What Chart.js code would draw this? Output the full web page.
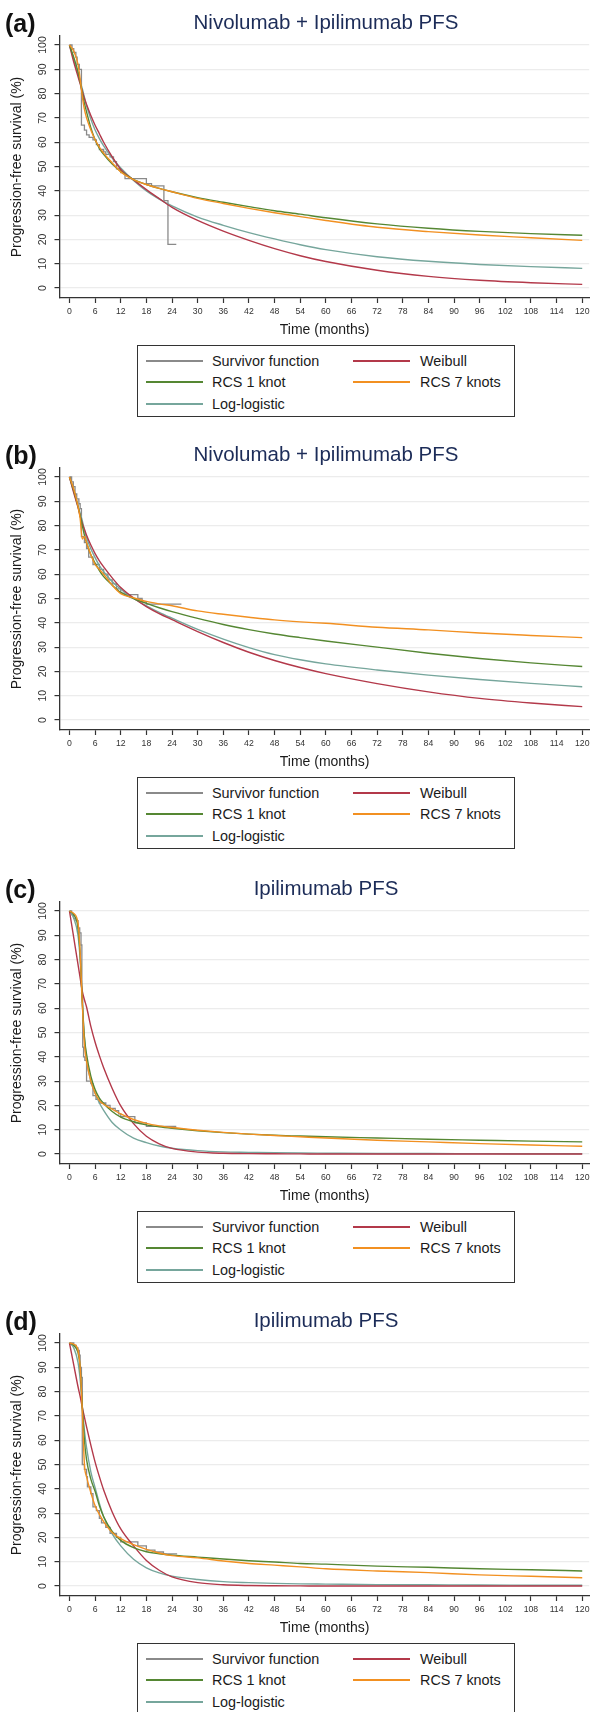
<!DOCTYPE html>
<html>
<head>
<meta charset="utf-8">
<title>PFS model fits</title>
<script src="https://cdn.jsdelivr.net/npm/chart.js@4.4.1/dist/chart.umd.min.js"></script>
<style>
  html, body { margin: 0; padding: 0; background: #fff; }
  body { width: 593px; height: 1712px; overflow: hidden; position: relative;
         font-family: 'Liberation Sans', Arial, Helvetica, sans-serif; }
  .panel { position: absolute; left: 0; width: 593px; height: 432px; }
  .panel canvas { position: absolute; left: 0; top: 0; }
  .tag { position: absolute; left: 5px; top: 11px; font: bold 25px/1 'Liberation Sans', Arial, sans-serif; color: #111; }
  .title { position: absolute; left: 60px; width: 532px; top: 12px; text-align: center;
           font: 20.5px/1 'Liberation Sans', Arial, sans-serif; color: #1c2c58; }
  .legend { position: absolute; left: 137px; top: 345px; width: 378px; height: 72px;
            box-sizing: border-box; border: 1.3px solid #333; }
  .legend .swatch { position: absolute; width: 57px; height: 1.8px; }
  .legend .label { position: absolute; font: 14.4px/1 'Liberation Sans', Arial, sans-serif; color: #1a1a1a; white-space: nowrap; }
</style>
</head>
<body>
<script>
// 공통 축 / 시간 격자
const xTicks = [0, 6, 12, 18, 24, 30, 36, 42, 48, 54, 60, 66, 72, 78, 84, 90, 96, 102, 108, 114, 120];
const yTicks = [0, 10, 20, 30, 40, 50, 60, 70, 80, 90, 100];
const fitT = [0, 1, 2, 2.5, 3, 3.5, 4, 5, 6, 7, 8, 10, 12, 15, 18, 21, 24, 30, 36, 42, 48, 54, 60, 72, 84, 96, 108, 120];

const seriesNames = ['Survivor function', 'Weibull', 'RCS 1 knot', 'RCS 7 knots', 'Log-logistic'];
const seriesColors = ['#8a8a8a', '#b3394a', '#558733', '#f29021', '#76a69c'];
const panelTags = ['(a)', '(b)', '(c)', '(d)'];
const panelTitles = ['Nivolumab + Ipilimumab PFS', 'Nivolumab + Ipilimumab PFS', 'Ipilimumab PFS', 'Ipilimumab PFS'];
const xTitle = 'Time (months)';
const yTitle = 'Progression-free survival (%)';

// (a)
const aKmT = [0, 0.6, 1.0, 1.5, 1.8, 2.3, 2.8, 3.5, 4.0, 4.6, 5.5, 6.3, 7, 8, 8.5, 9.5, 10.3, 11, 12, 13, 18, 19.2, 22.1, 23.05, 25];
const aKmS = [100, 98.5, 97, 95, 92, 90, 67, 65, 63, 62, 61, 59, 57, 56, 55, 54, 52, 49, 47.5, 45, 43, 42, 36, 18, 18];
const aWeibull = [100, 93, 87, 84, 81, 78, 75.5, 71, 67, 63.5, 60, 54, 48.8, 44.5, 40.5, 36.8, 33.2, 27.8, 23.4, 19.6, 16.2, 13.3, 10.9, 7.3, 4.8, 3.2, 2.2, 1.5];
const aRcs1 = [100, 95, 89, 85, 80, 76, 72.5, 66, 61, 57.5, 55, 51, 48, 44.6, 42.6, 41, 39.6, 37.2, 35.3, 33.5, 31.8, 30.4, 28.9, 26.4, 24.6, 23.3, 22.4, 21.7];
const aRcs7 = [100, 97.5, 92, 86, 79, 73.5, 70, 65, 61, 58, 55.5, 51.5, 47.8, 44.6, 42.6, 41, 39.6, 36.9, 34.8, 32.8, 31.0, 29.4, 27.8, 25.0, 23.2, 21.8, 20.7, 19.6];
const aLogLogistic = [100, 94, 88, 85, 82, 78.5, 75, 69.5, 65, 61.5, 58.5, 53.5, 49.4, 44.3, 40.0, 36.6, 33.8, 29.2, 25.8, 22.8, 20.2, 17.8, 15.8, 12.9, 11.0, 9.7, 8.8, 8.1];

// (b)
const bKmT = [0, 0.5, 0.9, 1.3, 1.7, 2.2, 2.5, 2.8, 3.5, 4, 4.5, 5.5, 7, 8, 9, 10, 11, 12, 13, 16, 17, 18, 26.2];
const bKmS = [100, 98, 96, 93, 91, 89, 87, 75.5, 73, 70.5, 67, 64, 62, 60, 57.7, 56, 54, 52.2, 51.6, 50, 48.5, 47.7, 47.7];
const bWeibull = [100, 93.5, 87.5, 84, 81, 78.5, 76, 72, 68.5, 65.5, 63, 58.5, 54.5, 50.2, 46.7, 43.8, 41.3, 36.4, 31.9, 27.9, 24.5, 21.6, 19.1, 15.0, 11.6, 8.9, 7.0, 5.5];
const bRcs1 = [100, 94.5, 88, 84, 80, 76, 73, 68, 64.6, 61.5, 59, 55.5, 52.5, 50, 48, 46.2, 44.6, 41.8, 39.3, 37.2, 35.4, 33.9, 32.5, 30.0, 27.5, 25.3, 23.5, 22.0];
const bRcs7 = [100, 95, 88, 83, 74.5, 75.5, 73, 68, 64, 62, 60, 55.5, 52, 50.3, 48.8, 47.8, 47.0, 44.9, 43.5, 42.3, 41.2, 40.4, 39.8, 38.2, 37.1, 35.8, 34.8, 33.9];
const bLogLogistic = [100, 94, 88, 85, 82, 78, 75, 70.5, 66.8, 63.5, 61, 57, 53.8, 50, 47, 44.3, 41.9, 37.3, 33.3, 29.8, 26.9, 24.8, 23.1, 20.6, 18.5, 16.7, 15.1, 13.7];

// (c)
const cKmT = [0, 0.5, 1, 1.5, 2, 2.4, 2.7, 2.9, 3.1, 3.3, 3.6, 4, 5, 5.5, 6.2, 7, 8.5, 9.5, 10.7, 11.5, 12, 15.3, 18, 25];
const cKmS = [100, 98.5, 97, 96, 93, 91, 86, 65, 44, 40, 38.5, 30, 29, 24, 22.5, 21, 20, 18.8, 17.8, 16.5, 15.4, 12.8, 11.4, 11.4];
const cWeibull = [100, 89, 78, 72.5, 67, 63.5, 60.5, 52.5, 46, 40.5, 35.5, 27, 19.8, 12.5, 7.3, 4.2, 2.3, 0.8, 0.3, 0.15, 0.1, 0.05, 0, 0, 0, 0, 0, 0];
const cRcs1 = [100, 98.5, 93, 82, 63, 48, 41, 32, 26.5, 23, 20.8, 17.5, 15.2, 13.3, 12.0, 11.2, 10.6, 9.6, 8.8, 8.2, 7.7, 7.4, 7.1, 6.6, 6.1, 5.7, 5.3, 5.0];
const cRcs7 = [100, 99, 95, 83, 62, 45, 38, 30, 25, 22, 20.5, 18.5, 16.5, 14.2, 12.6, 11.6, 10.9, 9.8, 8.9, 8.2, 7.6, 7.1, 6.6, 5.7, 5.0, 4.3, 3.7, 3.2];
const cLogLogistic = [100, 97, 90, 80, 62, 48, 39, 30, 25, 21, 18, 13, 9.9, 6.5, 4.7, 3.3, 2.4, 1.4, 0.9, 0.7, 0.5, 0.4, 0.35, 0.25, 0.2, 0.15, 0.12, 0.1];

// (d)
const dKmT = [0, 1, 1.6, 2, 2.3, 2.5, 2.8, 3.0, 3.5, 4, 4.2, 5, 5.5, 6.3, 7, 7.5, 8.5, 9.5, 11, 12, 16, 18, 20, 22, 25.2];
const dKmS = [100, 99, 98, 97, 95, 90, 85.8, 50, 48, 45, 40.8, 38, 32.6, 31, 27.8, 26, 24.1, 21.7, 20, 18.2, 16.5, 14.8, 14, 13.2, 13.2];
const dWeibull = [100, 91, 82, 78, 73.5, 69.5, 65.5, 58, 51, 45, 39.5, 30.5, 23.5, 16.5, 10.5, 6.5, 3.8, 1.4, 0.5, 0.2, 0.1, 0.05, 0, 0, 0, 0, 0, 0];
const dRcs1 = [100, 99, 96, 90, 74, 60, 52, 44, 39, 33, 28.5, 22.5, 18.8, 15.8, 14.1, 13.3, 12.7, 11.9, 11.1, 10.4, 9.9, 9.3, 9.0, 8.2, 7.7, 7.1, 6.7, 6.2];
const dRcs7 = [100, 99.5, 97, 90, 72, 50, 45, 38.5, 33, 29.5, 26.5, 22, 19.5, 17, 15.1, 13.6, 12.5, 11.6, 10.3, 9.3, 8.6, 7.9, 7.1, 6.2, 5.5, 4.6, 4.0, 3.4];
const dLogLogistic = [100, 98, 92, 85, 74, 64, 57, 47, 40.5, 34, 28.5, 21.5, 16.5, 11, 7.5, 5.4, 4.1, 2.7, 1.8, 1.4, 1.1, 0.9, 0.8, 0.6, 0.5, 0.4, 0.35, 0.3];

const panels = [
  { kmT: aKmT, kmS: aKmS, fits: [aWeibull, aRcs1, aRcs7, aLogLogistic] },
  { kmT: bKmT, kmS: bKmS, fits: [bWeibull, bRcs1, bRcs7, bLogLogistic] },
  { kmT: cKmT, kmS: cKmS, fits: [cWeibull, cRcs1, cRcs7, cLogLogistic] },
  { kmT: dKmT, kmS: dKmS, fits: [dWeibull, dRcs1, dRcs7, dLogLogistic] }
];
const panelTops = [0, 432, 866, 1298];

const axisColor = '#333333';
const gridColor = '#ececec';
Chart.defaults.font.family = "'Liberation Sans', Arial, Helvetica, sans-serif";

function pairs(xs, ys) {
  return xs.map((x, i) => ({ x: x, y: ys[i] }));
}

// 범례 (2열 박스)
function buildLegend(box) {
  const cols = [{ line: 8, text: 74 }, { line: 215, text: 282 }];
  const rows = [15, 36, 58];
  seriesNames.forEach((name, i) => {
    const c = cols[i % 2], r = rows[Math.floor(i / 2)];
    const sw = document.createElement('div');
    sw.className = 'swatch';
    sw.style.left = c.line + 'px';
    sw.style.top = (r - 1) + 'px';
    sw.style.background = seriesColors[i];
    box.appendChild(sw);
    const lb = document.createElement('div');
    lb.className = 'label';
    lb.style.left = c.text + 'px';
    lb.style.top = (r - 7) + 'px';
    lb.textContent = name;
    box.appendChild(lb);
  });
}

function buildChart(canvas, p) {
  const orders = [3, 2, 1, 4];
  const datasets = [{
    label: seriesNames[0],
    data: pairs(p.kmT, p.kmS),
    borderColor: seriesColors[0],
    borderWidth: 1.3,
    stepped: 'before',
    order: 5
  }];
  p.fits.forEach((vals, i) => {
    datasets.push({
      label: seriesNames[i + 1],
      data: pairs(fitT, vals),
      borderColor: seriesColors[i + 1],
      borderWidth: 1.4,
      cubicInterpolationMode: 'monotone',
      order: orders[i]
    });
  });

  return new Chart(canvas.getContext('2d'), {
    type: 'line',
    data: { datasets: datasets },
    options: {
      responsive: false,
      animation: false,
      events: [],
      layout: { padding: { top: 36, right: 2, bottom: 0, left: 0 } },
      elements: { point: { radius: 0 } },
      plugins: { legend: { display: false }, tooltip: { enabled: false } },
      scales: {
        x: {
          type: 'linear',
          min: -2.216,
          max: 121.63,
          afterBuildTicks: s => { s.ticks = xTicks.map(v => ({ value: v })); },
          afterFit: s => { s.height = 47; },
          grid: { drawOnChartArea: false, drawTicks: true, tickLength: 5, tickColor: axisColor, tickWidth: 1.2 },
          border: { display: true, color: axisColor, width: 1.3 },
          ticks: { font: { size: 8.7 }, color: '#333', padding: 3.5, maxRotation: 0, autoSkip: false },
          title: { display: true, text: xTitle, font: { size: 14 }, color: '#1a1a1a', padding: { top: 0, bottom: 6.6 } }
        },
        y: {
          type: 'linear',
          min: -4.1,
          max: 103.7,
          afterBuildTicks: s => { s.ticks = yTicks.map(v => ({ value: v })); },
          afterFit: s => { s.width = 60; },
          grid: { color: gridColor, lineWidth: 1.2, tickLength: 5.5, tickColor: axisColor, tickWidth: 1.2 },
          border: { display: true, color: axisColor, width: 1.3 },
          ticks: { font: { size: 10.5 }, color: '#333', padding: 2.75, minRotation: 90, maxRotation: 90, crossAlign: 'center', autoSkip: false },
          title: { display: true, text: yTitle, font: { size: 14 }, color: '#1a1a1a', padding: { top: 8.6, bottom: 0 } }
        }
      }
    }
  });
}

panels.forEach((p, k) => {
  const panel = document.createElement('div');
  panel.className = 'panel';
  panel.style.top = panelTops[k] + 'px';
  document.body.appendChild(panel);

  const canvas = document.createElement('canvas');
  canvas.width = 593;
  canvas.height = 345;
  panel.appendChild(canvas);

  const tag = document.createElement('div');
  tag.className = 'tag';
  tag.textContent = panelTags[k];
  panel.appendChild(tag);

  const title = document.createElement('div');
  title.className = 'title';
  title.textContent = panelTitles[k];
  panel.appendChild(title);

  const legend = document.createElement('div');
  legend.className = 'legend';
  panel.appendChild(legend);
  buildLegend(legend);

  buildChart(canvas, p);
});
</script>
</body>
</html>
